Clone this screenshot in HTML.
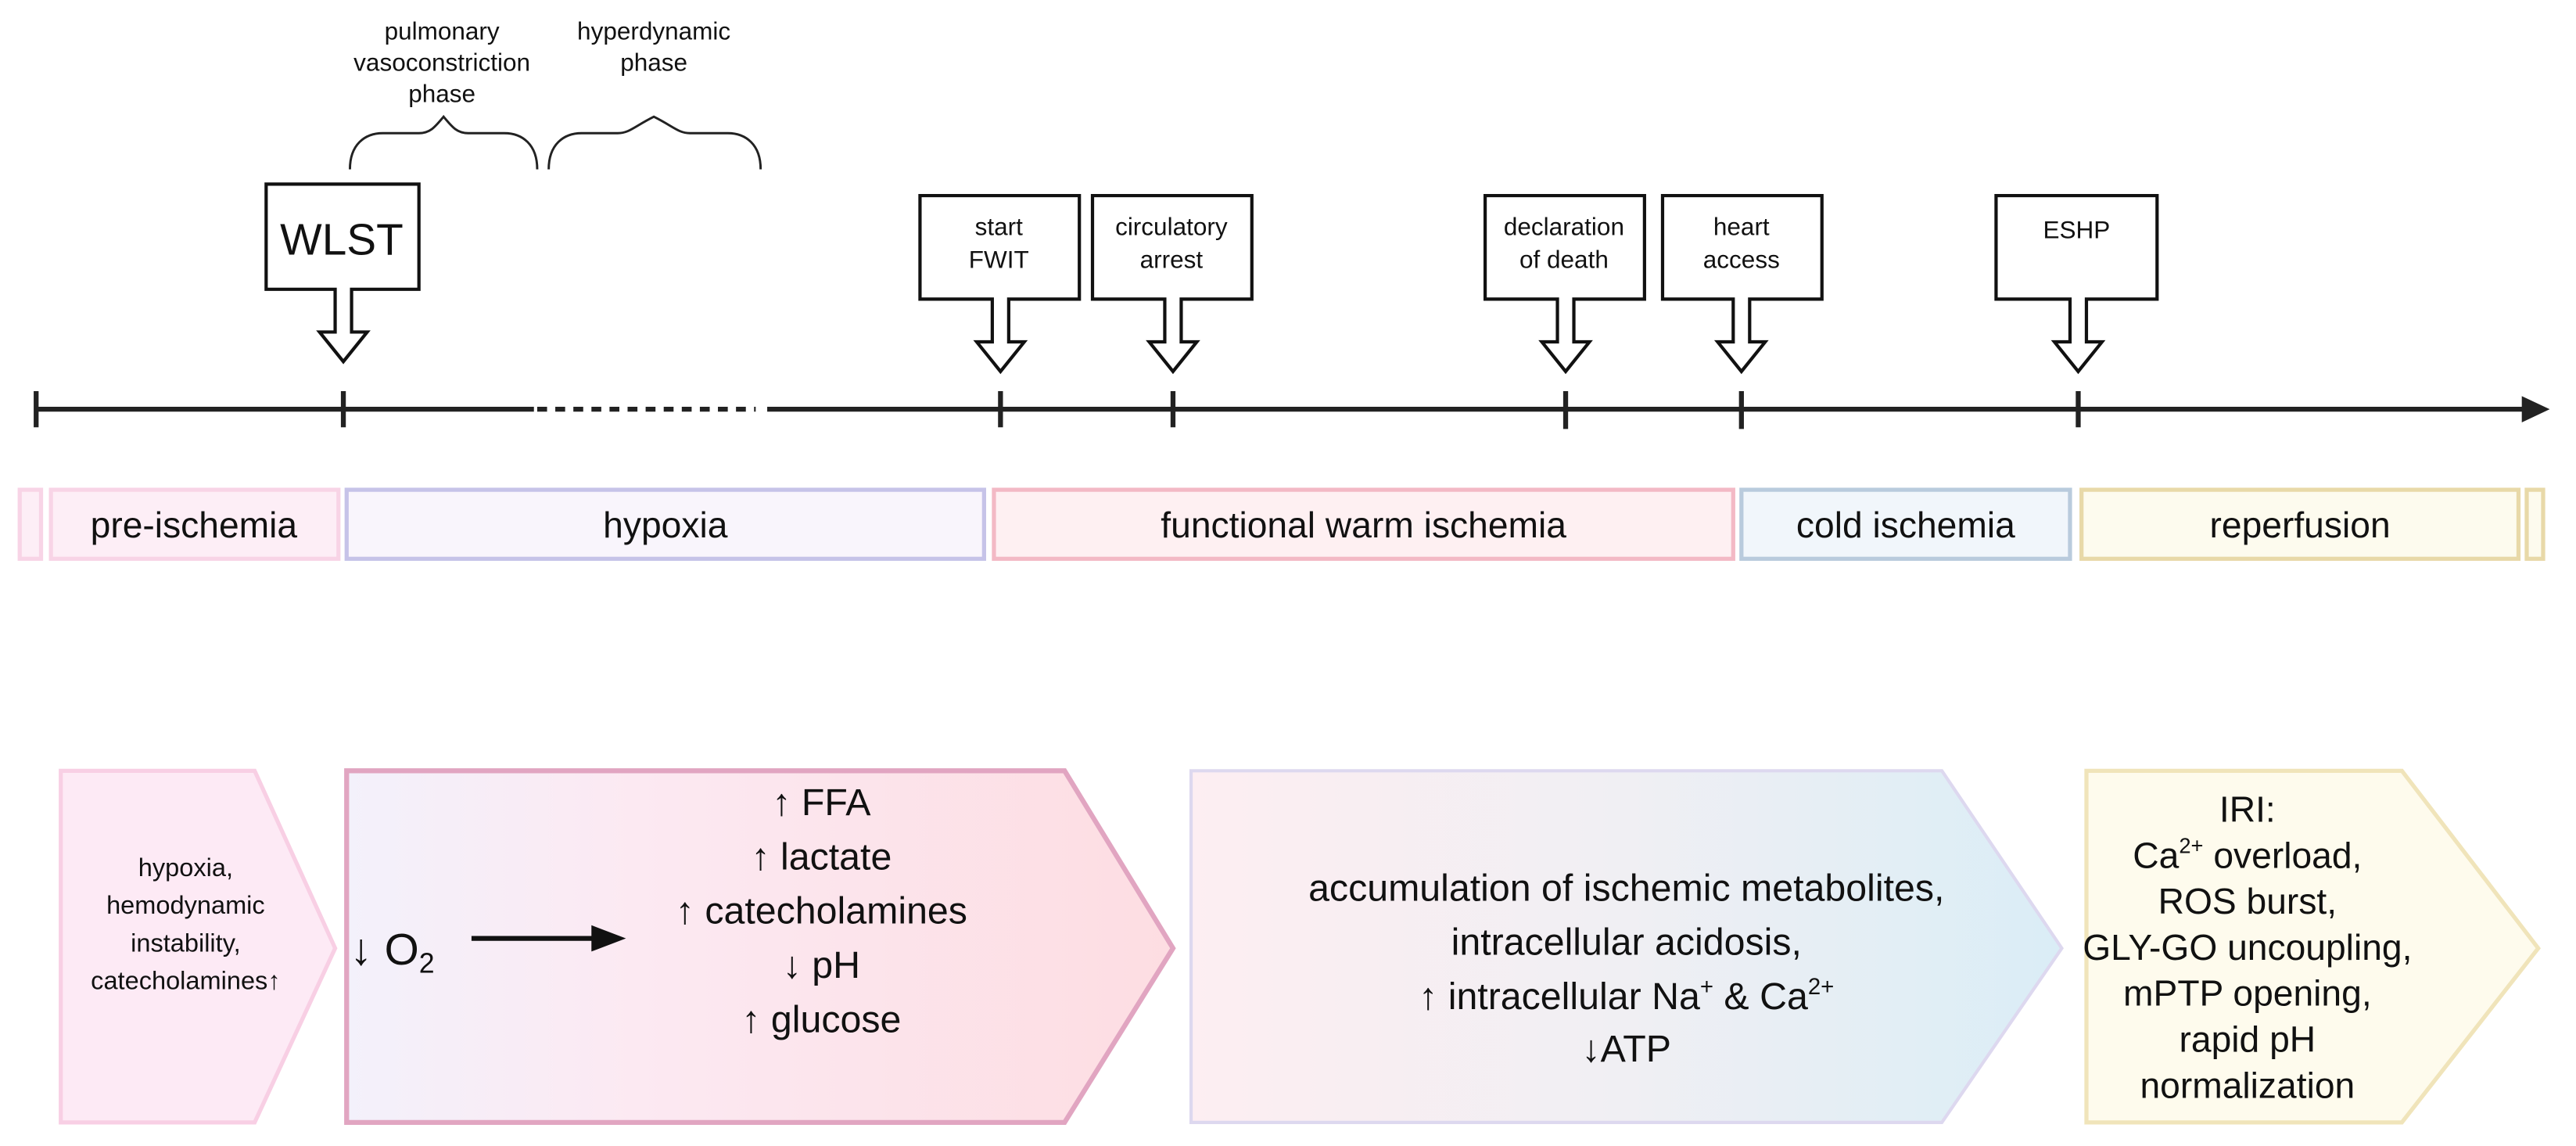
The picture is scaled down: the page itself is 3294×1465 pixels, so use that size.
<!DOCTYPE html>
<html><head><meta charset="utf-8"><style>html,body{margin:0;padding:0;background:#fff}svg{display:block}text{font-family:"Liberation Sans",sans-serif;fill:#111}</style></head>
<body>
<svg width="3294" height="1465" viewBox="0 0 1568 697.3" xmlns="http://www.w3.org/2000/svg">
<defs>
<linearGradient id="g1" x1="0" x2="1" y1="0" y2="0"><stop offset="0" stop-color="#f3f1fb"/><stop offset="0.35" stop-color="#fce9f2"/><stop offset="1" stop-color="#fddde2"/></linearGradient>
<linearGradient id="g2" x1="0" x2="1" y1="0" y2="0"><stop offset="0" stop-color="#fdeef2"/><stop offset="0.5" stop-color="#f0eff3"/><stop offset="1" stop-color="#daedf6"/></linearGradient>
</defs>
<g font-size="15" text-anchor="middle">
<text x="269" y="24">pulmonary</text><text x="269" y="43">vasoconstriction</text><text x="269" y="62">phase</text>
<text x="398" y="24">hyperdynamic</text><text x="398" y="43">phase</text>
</g>
<g fill="none" stroke="#222" stroke-width="1.4">
<path d="M213 103 C213 88 222 81 233 81 L255 81 C262 81 265 77 270 71 C275 77 278 81 285 81 L307 81 C318 81 327 88 327 103"/>
<path d="M334 103 C334 88 343 81 354 81 L376 81 C383 81 386 77 398 71 C410 77 413 81 420 81 L443 81 C454 81 463 88 463 103"/>
</g>
<g fill="#fff" stroke="#111" stroke-width="2">
<path d="M162 112 H255 V176 H214 V202 H223.5 L209 220 L194.5 202 H204 V176 H162 Z"/>
<path d="M560 119 H657 V182 H614 V208 H623.5 L609 226 L594.5 208 H604 V182 H560 Z"/>
<path d="M665 119 H762 V182 H719 V208 H728.5 L714 226 L699.5 208 H709 V182 H665 Z"/>
<path d="M904 119 H1001 V182 H958 V208 H967.5 L953 226 L938.5 208 H948 V182 H904 Z"/>
<path d="M1012 119 H1109 V182 H1065 V208 H1074.5 L1060 226 L1045.5 208 H1055 V182 H1012 Z"/>
<path d="M1215 119 H1313 V182 H1270 V208 H1279.5 L1265 226 L1250.5 208 H1260 V182 H1215 Z"/>
</g>
<text x="208" y="155" font-size="27" text-anchor="middle">WLST</text>
<g font-size="15" text-anchor="middle">
<text x="608" y="143">start</text><text x="608" y="163">FWIT</text>
<text x="713" y="143">circulatory</text><text x="713" y="163">arrest</text>
<text x="952" y="143">declaration</text><text x="952" y="163">of death</text>
<text x="1060" y="143">heart</text><text x="1060" y="163">access</text>
<text x="1264" y="145">ESHP</text>
</g>
<g stroke="#222" stroke-width="3" fill="none">
<line x1="22" y1="249" x2="325" y2="249"/>
<line x1="327" y1="249" x2="460" y2="249" stroke-dasharray="6 5"/>
<line x1="467" y1="249" x2="1537" y2="249"/>
<line x1="22" y1="238" x2="22" y2="260"/>
<line x1="209" y1="238" x2="209" y2="260"/>
<line x1="609" y1="238" x2="609" y2="260"/>
<line x1="714" y1="238" x2="714" y2="260"/>
<line x1="953" y1="238" x2="953" y2="261"/>
<line x1="1060" y1="238" x2="1060" y2="261"/>
<line x1="1265" y1="238" x2="1265" y2="260"/>
</g>
<path d="M1535 241 L1552 249 L1535 257 Z" fill="#222"/>
<g stroke-width="2.5">
<rect x="12" y="298" width="13" height="42" fill="#fdeef6" stroke="#f8d4e6"/>
<rect x="31" y="298" width="175" height="42" fill="#fdeef6" stroke="#f8d4e6"/>
<rect x="211" y="298" width="388" height="42" fill="#f9f5fc" stroke="#c6c3e8"/>
<rect x="605" y="298" width="450" height="42" fill="#fef0f2" stroke="#f3b9c5"/>
<rect x="1060" y="298" width="200" height="42" fill="#f1f6fb" stroke="#b9cbdd"/>
<rect x="1267" y="298" width="266" height="42" fill="#fdfbee" stroke="#e8d9a8"/>
<rect x="1538" y="298" width="10" height="42" fill="#fdfbee" stroke="#e8d9a8"/>
</g>
<g font-size="22" text-anchor="middle">
<text x="118" y="327">pre-ischemia</text>
<text x="405" y="327">hypoxia</text>
<text x="830" y="327">functional warm ischemia</text>
<text x="1160" y="327">cold ischemia</text>
<text x="1400" y="327">reperfusion</text>
</g>
<path d="M37 469 H155 L204 577 L155 683 H37 Z" fill="#fdeaf5" stroke="#f8cfe4" stroke-width="2.5"/>
<path d="M211 469 H648 L714 577 L648 683 H211 Z" fill="url(#g1)" stroke="#e1a5c1" stroke-width="3"/>
<path d="M725 469 H1182 L1255 577 L1182 683 H725 Z" fill="url(#g2)" stroke="#ddd8ef" stroke-width="2"/>
<path d="M1270 469 H1462 L1545 577 L1462 683 H1270 Z" fill="#fefbed" stroke="#f0e4ba" stroke-width="2.5"/>
<g font-size="15.5" text-anchor="middle">
<text x="113" y="533">hypoxia,</text><text x="113" y="556">hemodynamic</text><text x="113" y="579">instability,</text><text x="113" y="602">catecholamines↑</text>
</g>
<text x="213" y="587" font-size="27">↓ O<tspan font-size="17" dy="5">2</tspan></text>
<line x1="287" y1="571" x2="362" y2="571" stroke="#111" stroke-width="3"/>
<path d="M360 563 L381 571 L360 579 Z" fill="#111"/>
<g font-size="23" text-anchor="middle">
<text x="500" y="496">↑ FFA</text><text x="500" y="529">↑ lactate</text><text x="500" y="562">↑ catecholamines</text><text x="500" y="595">↓ pH</text><text x="500" y="628">↑ glucose</text>
</g>
<g font-size="23" text-anchor="middle">
<text x="990" y="548">accumulation of ischemic metabolites,</text>
<text x="990" y="581">intracellular acidosis,</text>
<text x="990" y="614">↑ intracellular Na<tspan font-size="14" dy="-9">+</tspan><tspan dy="9"> &amp; Ca</tspan><tspan font-size="14" dy="-9">2+</tspan></text>
<text x="990" y="646">↓ATP</text>
</g>
<g font-size="22" text-anchor="middle">
<text x="1368" y="500">IRI:</text>
<text x="1368" y="528">Ca<tspan font-size="13" dy="-9">2+</tspan><tspan dy="9"> overload,</tspan></text>
<text x="1368" y="556">ROS burst,</text>
<text x="1368" y="584">GLY-GO uncoupling,</text>
<text x="1368" y="612">mPTP opening,</text>
<text x="1368" y="640">rapid pH</text>
<text x="1368" y="668">normalization</text>
</g>
</svg>
</body></html>
